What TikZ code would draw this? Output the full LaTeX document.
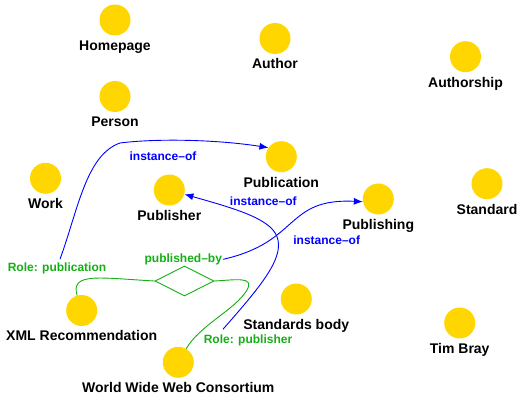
\documentclass[tikz,border=0pt]{standalone}
\usepackage{fontspec}
\setmainfont{Liberation Sans}
\usetikzlibrary{arrows.meta,calc,shapes.geometric}
\definecolor{topicgold}{RGB}{255,214,0}
\definecolor{relgreen}{RGB}{20,175,20}
\definecolor{relblue}{RGB}{0,0,255}
\begin{document}
\begin{tikzpicture}[x=1pt,y=-1pt,
  topic/.style={circle,fill=topicgold,minimum size=31pt,inner sep=0pt},
  tlabel/.style={anchor=base,inner sep=0pt,font=\fontsize{14}{16}\selectfont\bfseries,text=black},
  glabel/.style={inner sep=1pt,font=\fontsize{12}{14}\selectfont\bfseries,text=relgreen},
  blabel/.style={inner sep=1pt,font=\fontsize{12}{14}\selectfont\bfseries,text=relblue},
  inst/.style={draw=relblue,line width=0.9pt,-{Latex[length=9pt,width=7pt]}},
  role/.style={draw=relgreen,line width=0.9pt},
  assocbox/.style={diamond,draw=relgreen,line width=0.9pt,minimum width=59pt,minimum height=30pt,inner sep=0pt}
]
\useasboundingbox (0,0) rectangle (520,395);

% topics
\node[topic] (homepage) at (115,20) {};
\node[tlabel] (homepageL) at (115,50.5) {Homepage};
\node[topic] (author) at (275,38.5) {};
\node[tlabel] (authorL) at (275,69) {Author};
\node[topic] (authorship) at (465.5,56.7) {};
\node[tlabel] (authorshipL) at (465.5,87.2) {Authorship};
\node[topic] (person) at (115,96.5) {};
\node[tlabel] (personL) at (115,127) {Person};
\node[topic] (work) at (45.5,178.3) {};
\node[tlabel] (workL) at (45.5,208.3) {Work};
\node[topic] (publication) at (281.3,156.7) {};
\node[tlabel] (publicationL) at (281.3,187.2) {Publication};
\node[topic] (publisher) at (169.3,190) {};
\node[tlabel] (publisherL) at (169.3,220.5) {Publisher};
\node[topic] (publishing) at (378.3,199) {};
\node[tlabel] (publishingL) at (378.3,229.5) {Publishing};
\node[topic] (standard) at (487,183.7) {};
\node[tlabel] (standardL) at (487,214.2) {Standard};
\node[topic] (stdbody) at (296.3,299) {};
\node[tlabel] (stdbodyL) at (296.3,329.5) {Standards body};
\node[topic] (timbray) at (459.7,323) {};
\node[tlabel] (timbrayL) at (459.7,353.5) {Tim Bray};
\node[topic] (xml) at (81.7,310.5) {};
\node[tlabel] (xmlL) at (81.7,341) {XML Recommendation};
\node[topic] (w3c) at (178.3,362.3) {};
\node[tlabel] (w3cL) at (178.3,392.3) {World Wide Web Consortium};

% association
\node[assocbox] (assoc) at (184.5,281) {};
\node[glabel] (pb) at (183.3,259.3) {published–by};
\node[glabel] (rpubn) at (57,268) {Role: publication};
\node[glabel] (rpubr) at (248,340) {Role: publisher};

\draw[role] (assoc.west) .. controls (100,278) and (70,272) .. (xml);
\draw[role] (assoc.east) .. controls (235,280) and (255,276) .. (247,290)
  .. controls (235,310) and (200,325) .. (w3c);

% instance-of
\node[blabel] (io1) at (163,156) {instance–of};
\node[blabel] (io2) at (263.3,201.3) {instance–of};
\node[blabel] (io3) at (326.7,240) {instance–of};

\draw[inst] ($(rpubn.north)+(3,-2)$) .. controls (78,210) and (86,155) .. (120,143)
  .. controls (160,138) and (220,140) .. (publication.145);
\draw[inst] ($(rpubr.north)+(-25,-4)$) .. controls (262,285) and (282,260) .. (278,240)
  .. controls (274,220) and (240,210) .. (publisher);
\draw[inst] (pb.east) .. controls (300,242) and (285,198) .. (publishing.190);
\end{tikzpicture}
\end{document}
